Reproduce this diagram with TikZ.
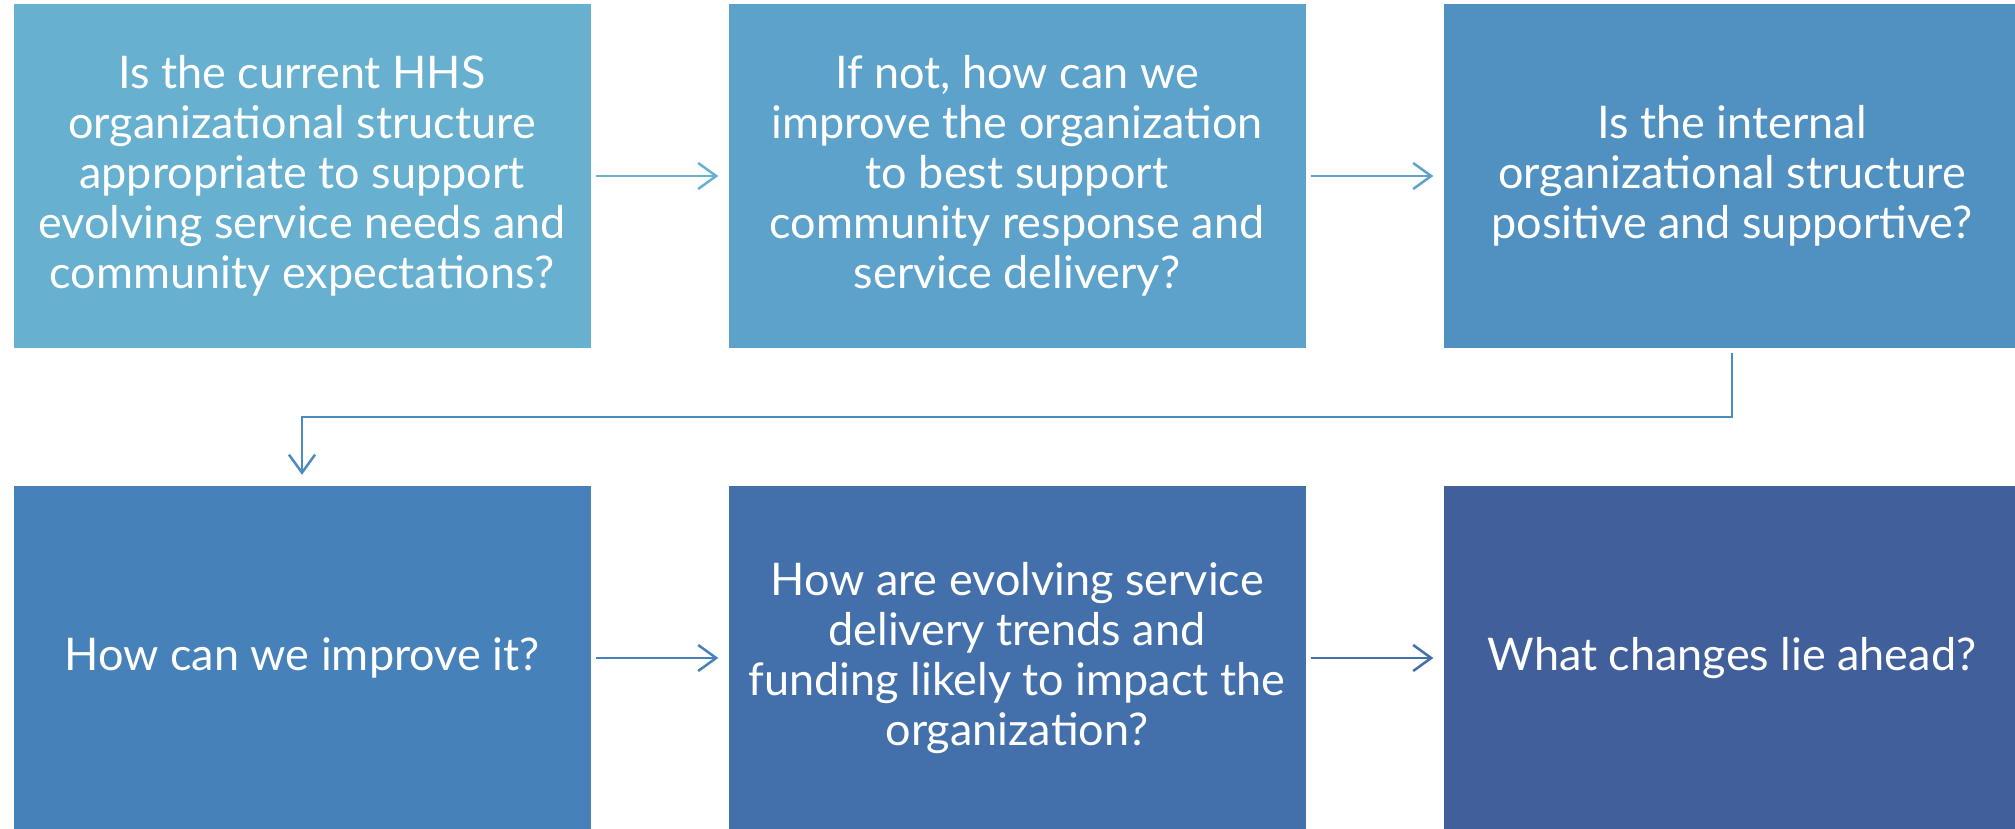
\documentclass[tikz,border=0pt]{standalone}
\usepackage{fontspec}
\setmainfont{Lato}
\usepackage{xcolor}
\usepackage{tikz}
\usetikzlibrary{arrows.meta}
\definecolor{qA}{RGB}{103,176,207}
\definecolor{qB}{RGB}{92,162,203}
\definecolor{qC}{RGB}{80,145,194}
\definecolor{qD}{RGB}{70,129,186}
\definecolor{qE}{RGB}{67,112,170}
\definecolor{qF}{RGB}{65,96,155}
\tikzset{
  qbox/.style={rectangle, fill=#1, text=white, minimum width=577pt, minimum height=344pt,
    inner sep=0pt, align=center, font=\fontsize{45}{50}\selectfont},
  flow/.style={draw=#1, line width=2.5pt, -{Straight Barb[length=18pt,width=26pt,line width=2.5pt]}},
}

\begin{document}
\begin{tikzpicture}[x=1pt,y=-1pt]
			\useasboundingbox (0,0) rectangle (2015,829);
			\clip (0,0) rectangle (2015,829);
			%top row
			\node [qbox=qA] at (302,176) (q1) {Is the current HHS\\organizational structure\\appropriate to support\\evolving service needs and\\community expectations?};
			\node [qbox=qB] at (1017,176) (q2) {If not, how can we\\improve the organization\\to best support\\community response and\\service delivery?};
			\node [qbox=qC] at (1732,176) (q3) {Is the internal\\organizational structure\\positive and supportive?};
			%bottom row
			\node [qbox=qD] at (302,658) (q4) {How can we improve it?};
			\node [qbox=qE] at (1017,658) (q5) {How are evolving service\\delivery trends and\\funding likely to impact the\\organization?};
			\node [qbox=qF] at (1732,658) (q6) {What changes lie ahead?};

			%arrows
			\draw [flow=qA, shorten <=5pt, shorten >=10pt] (q1.east) -- (q2.west);
			\draw [flow=qB, shorten <=5pt, shorten >=10pt] (q2.east) -- (q3.west);
			\draw [flow=qC!60!qD] ([yshift=-5pt]q3.south) -- ++(0,64) -| ([yshift=11pt]q4.north);
			\draw [flow=qD, shorten <=5pt, shorten >=10pt] (q4.east) -- (q5.west);
			\draw [flow=qE, shorten <=5pt, shorten >=10pt] (q5.east) -- (q6.west);
		\end{tikzpicture}
\end{document}
